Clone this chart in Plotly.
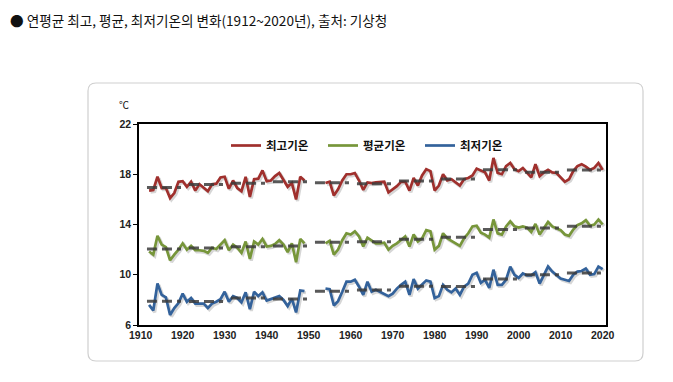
import plotly.graph_objects as go

# ---------------- data ----------------
years_pre = list(range(1912, 1950))
years_post = list(range(1954, 2021))

tmax_pre = [16.7, 16.75, 17.8, 16.9, 16.9, 16.1, 16.5, 17.4, 17.45, 17.0,
            17.4, 16.7, 17.2, 16.9, 16.65, 17.2, 17.25, 17.75, 17.8, 16.85,
            17.5, 16.9, 16.65, 17.8, 16.2, 17.6, 17.65, 18.3, 17.45, 17.5,
            17.85, 18.1, 17.6, 17.0, 17.3, 16.0, 17.8, 17.5]
tmax_post = [17.3, 17.4, 16.3, 16.8, 17.5, 18.0, 18.0, 18.1, 17.5, 16.75,
             17.35, 17.3, 17.35, 17.4, 17.4, 16.55, 16.8, 17.05, 17.4, 17.4,
             16.7, 17.7, 17.1, 17.9, 18.4, 18.25, 16.7, 17.1, 18.0, 17.5,
             17.6, 17.35, 17.1, 17.6, 17.7, 17.9, 18.45, 18.3, 18.15, 17.5,
             19.3, 18.1, 18.0, 18.65, 18.9, 18.4, 18.25, 18.5, 18.15, 17.75,
             18.8, 17.85, 18.15, 18.35, 18.15, 18.1, 17.75, 17.4, 17.6, 18.25,
             18.65, 18.8, 18.6, 18.35, 18.5, 18.9, 18.35]

tavg_pre = [11.85, 11.6, 13.1, 12.4, 12.2, 11.15, 11.6, 12.0, 12.5, 12.0,
            12.3, 11.95, 11.95, 11.9, 11.75, 12.15, 12.05, 12.4, 12.75, 11.95,
            12.4, 12.15, 11.75, 12.65, 11.25, 12.65, 12.4, 12.85, 12.25, 12.3,
            12.45, 12.75, 12.4, 11.8, 12.5, 11.0, 12.85, 12.5]
tavg_post = [12.5, 12.7, 11.6, 12.0, 12.75, 13.3, 13.2, 13.45, 13.05, 12.25,
             12.95, 12.7, 12.5, 12.5, 12.55, 12.0, 12.3, 12.5, 12.75, 13.05,
             12.25, 13.2, 12.65, 12.9, 13.55, 13.45, 12.0, 12.3, 13.3, 12.9,
             12.7, 12.5, 12.3, 12.9, 13.3, 13.85, 13.9, 13.35, 13.2, 12.95,
             14.4, 13.3, 13.2, 13.85, 14.25, 13.85, 13.75, 13.85, 13.75, 13.4,
             14.05, 13.2, 13.75, 14.2, 13.85, 13.7, 13.55, 13.2, 13.1, 13.6,
             13.95, 14.1, 14.35, 13.9, 14.0, 14.4, 14.0]

tmin_pre = [7.6, 7.15, 9.3, 8.4, 8.2, 6.8, 7.35, 7.75, 8.5, 7.85,
            8.15, 7.7, 7.7, 7.7, 7.35, 7.7, 7.85, 8.05, 8.65, 7.85,
            8.3, 8.15, 7.8, 8.6, 7.25, 8.65, 8.3, 8.6, 7.95, 8.05,
            8.2, 8.3, 8.0, 7.5, 8.1, 7.0, 8.75, 8.7]
tmin_post = [8.9, 8.85, 7.55, 7.9, 8.65, 9.45, 9.45, 9.6, 9.05, 8.4,
             9.45, 8.65, 8.8, 8.65, 8.5, 8.3, 8.5, 8.9, 9.2, 9.45,
             8.4, 9.65, 8.9, 9.2, 9.55, 9.45, 8.15, 8.3, 9.2, 8.8,
             8.6, 8.9, 8.4, 9.05, 9.3, 10.0, 10.15, 9.35, 9.6, 8.95,
             10.4, 9.2, 9.2, 9.6, 10.65, 10.0, 9.75, 10.1, 9.95, 9.95,
             10.2, 9.3, 10.0, 10.65, 10.25, 9.95, 9.7, 9.6, 9.5, 10.0,
             10.25, 10.3, 10.5, 10.0, 10.05, 10.65, 10.45]

series_names = ["최고기온", "평균기온", "최저기온"]
series_colors = ["#A0302D", "#77963A", "#33629B"]
x_ticks = [1910, 1920, 1930, 1940, 1950, 1960, 1970, 1980, 1990, 2000, 2010, 2020]
y_ticks = [6, 10, 14, 18, 22]
decades = list(range(1910, 2020, 10))

title_text = "● 연평균 최고, 평균, 최저기온의 변화(1912~2020년), 출처: 기상청"
unit_text = "℃"

# ---------------- layout geometry (pixels) ----------------
W, H = 673, 382
PL, PR, PT, PB = 139, 606, 124, 325


def px_x(p):
    return (p - PL) / (PR - PL)


def px_y(p):
    return (PB - p) / (PB - PT)


years_all = years_pre + [None] + years_post
fig = go.Figure()

all_series = [(tmax_pre, tmax_post), (tavg_pre, tavg_post), (tmin_pre, tmin_post)]

# shadows
for pre, post in all_series:
    xs = [y + 0.35 for y in years_pre] + [None] + [y + 0.35 for y in years_post]
    ys = [v - 0.13 for v in pre] + [None] + [v - 0.13 for v in post]
    fig.add_trace(go.Scatter(x=xs, y=ys, mode="lines", showlegend=False,
                             hoverinfo="skip",
                             line=dict(color="rgba(0,0,0,0.16)", width=3.2)))

# main lines
for (pre, post), name, col in zip(all_series, series_names, series_colors):
    fig.add_trace(go.Scatter(x=years_all, y=pre + [None] + post, mode="lines",
                             name=name, connectgaps=False,
                             line=dict(color=col, width=2.7)))

# decadal mean dashed segments
for pre, post in all_series:
    vals = dict(zip(years_pre, pre))
    vals.update(dict(zip(years_post, post)))
    xs, ys = [], []
    for d in decades:
        v = [vals[y] for y in range(d + 1, d + 11) if y in vals]
        if not v:
            continue
        m = sum(v) / len(v)
        xs += [d + 1.5, d + 9.6, None]
        ys += [m, m, None]
    fig.add_trace(go.Scatter(x=xs, y=ys, mode="lines", showlegend=False,
                             hoverinfo="skip",
                             line=dict(color="rgba(60,60,60,0.85)", width=3,
                                       dash="10px,5px")))

# rounded outer frame
x0, x1 = px_x(88), px_x(643)
y0, y1 = px_y(361), px_y(83)
rx = 8 / (PR - PL)
ry = 8 / (PB - PT)
path = (f"M {x0+rx},{y1} L {x1-rx},{y1} Q {x1},{y1} {x1},{y1-ry} "
        f"L {x1},{y0+ry} Q {x1},{y0} {x1-rx},{y0} "
        f"L {x0+rx},{y0} Q {x0},{y0} {x0},{y0+ry} "
        f"L {x0},{y1-ry} Q {x0},{y1} {x0+rx},{y1} Z")
fig.add_shape(type="path", path=path, xref="paper", yref="paper",
              line=dict(color="#CFCFCF", width=1.2), fillcolor="rgba(0,0,0,0)",
              layer="below")

fig.add_annotation(text=title_text, xref="paper", yref="paper",
                   x=px_x(8), y=px_y(20), xanchor="left", yanchor="middle",
                   showarrow=False,
                   font=dict(family="Noto Sans CJK KR", size=13.6, color="#111"))
fig.add_annotation(text=unit_text, xref="paper", yref="paper",
                   x=px_x(124), y=px_y(104), xanchor="center", yanchor="middle",
                   showarrow=False,
                   font=dict(family="Noto Sans CJK KR", size=10, color="#111"))

tickfont = dict(family="Liberation Sans", size=10.5, color="#222", weight="bold")
fig.update_xaxes(range=[1909.6, 2020.8], tickvals=x_ticks,
                 ticktext=[str(t) for t in x_ticks], showgrid=False,
                 zeroline=False, showline=True, linecolor="#000", linewidth=1.5,
                 mirror=True, ticks="", tickfont=tickfont)
fig.update_yaxes(range=[6, 22], tickvals=y_ticks, showgrid=False,
                 zeroline=False, showline=True, linecolor="#000", linewidth=1.5,
                 mirror=True, ticks="outside", ticklen=4, tickcolor="#000",
                 tickwidth=1, tickfont=tickfont)

fig.update_layout(
    width=W, height=H,
    margin=dict(l=PL, r=W - PR, t=PT, b=H - PB, pad=0),
    paper_bgcolor="white", plot_bgcolor="white",
    showlegend=True,
    legend=dict(orientation="h", x=px_x(226), y=px_y(131), xanchor="left",
                yanchor="top", bgcolor="rgba(0,0,0,0)",
                font=dict(family="Noto Sans CJK KR", size=11.5, color="#111",
                          weight="bold"),
                itemwidth=30, entrywidth=52, entrywidthmode="pixels"),
)

fig.write_html("out.html", config={"displayModeBar": False},
               post_script="document.body.style.margin='0';")
